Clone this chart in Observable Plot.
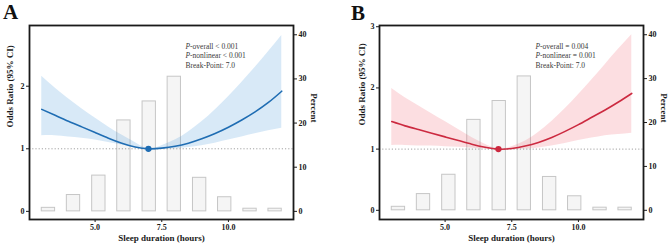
<!DOCTYPE html>
<html>
<head>
<meta charset="utf-8">
<script src="https://cdn.jsdelivr.net/npm/d3@7"></script>
<script src="https://cdn.jsdelivr.net/npm/@observablehq/plot@0.6"></script>
<style>
  body { margin: 0; background: #fff; }
  #wrap { position: relative; width: 669px; height: 248px; overflow: hidden; background: #fff; }
  .panel { position: absolute; top: 0; }
  .letter { position: absolute; font-family: 'Liberation Serif', serif; font-weight: bold; font-size: 21px; line-height: 21px; color: #111; }
</style>
</head>
<body>
<div id="wrap"></div>
<script>
// ---- data ----
const sleepHours = [3, 3.5, 4, 4.5, 5, 5.5, 6, 6.5, 7, 7.5, 8, 8.5, 9, 9.5, 10, 10.5, 11, 11.5, 12];
const orA = [1.63, 1.535, 1.44, 1.35, 1.26, 1.17, 1.09, 1.03, 1.00, 1.01, 1.04, 1.09, 1.16, 1.245, 1.345, 1.46, 1.59, 1.74, 1.92];
const loA = [1.21, 1.21, 1.19, 1.17, 1.14, 1.10, 1.06, 1.02, 1.00, 0.99, 1.00, 1.02, 1.05, 1.09, 1.14, 1.19, 1.24, 1.29, 1.33];
const hiA = [2.16, 1.97, 1.80, 1.64, 1.49, 1.35, 1.22, 1.10, 1.00, 1.05, 1.14, 1.27, 1.43, 1.62, 1.83, 2.06, 2.30, 2.55, 2.81];
const orB = [1.45, 1.38, 1.32, 1.26, 1.20, 1.14, 1.08, 1.03, 1.00, 1.01, 1.05, 1.11, 1.19, 1.29, 1.40, 1.52, 1.64, 1.77, 1.91];
const loB = [1.06, 1.06, 1.05, 1.05, 1.04, 1.03, 1.02, 1.00, 1.00, 0.99, 1.00, 1.02, 1.05, 1.09, 1.14, 1.18, 1.22, 1.24, 1.26];
const hiB = [1.99, 1.84, 1.71, 1.58, 1.45, 1.32, 1.19, 1.08, 1.00, 1.04, 1.13, 1.27, 1.45, 1.66, 1.89, 2.13, 2.38, 2.63, 2.87];
const binCenters = [3.25, 4.19, 5.14, 6.08, 7.03, 7.97, 8.92, 9.86, 10.81, 11.75];
const binPercent = [0.8, 3.7, 8.1, 20.6, 24.9, 30.5, 7.6, 3.2, 0.6, 0.6];
const breakPoint = 7.0;
const xTicks = [5, 7.5, 10];
const pctTicks = [0, 10, 20, 30, 40];
const notesA = ["P-overall < 0.001", "P-nonlinear < 0.001", "Break-Point: 7.0"];
const notesB = ["P-overall = 0.004", "P-nonlinear = 0.001", "Break-Point: 7.0"];

const SERIF = "'Liberation Serif', 'Times New Roman', serif";

function panel(cfg) {
  const curveData = sleepHours.map((x, i) => ({x, or: cfg.or[i], lo: cfg.lo[i], hi: cfg.hi[i]}));
  const bins = binCenters.map((c, i) => ({c, p: binPercent[i]}));
  const k = cfg.yMax / 42.1; // OR units per percent (percent 0 aligned with OR 0)
  const bold = {fontWeight: "bold", fontFamily: SERIF};
  const svg = Plot.plot({
    width: cfg.w, height: 248,
    marginTop: 25, marginBottom: 29, marginLeft: cfg.mL, marginRight: cfg.mR,
    x: {domain: [2.54, 12.44]},
    y: {domain: [cfg.yMin, cfg.yMax]},
    style: {fontFamily: SERIF, fontWeight: "bold", background: "white", overflow: "visible", color: "#1a1a1a"},
    marks: [
      Plot.rect(bins, {x1: d => d.c - 0.25, x2: d => d.c + 0.25, y1: 0, y2: d => d.p * k, fill: "#f5f5f5", stroke: "#c6c6c6", strokeWidth: 1}),
      Plot.areaY(curveData, {x: "x", y1: "lo", y2: "hi", fill: cfg.band, fillOpacity: 0.2, curve: "natural"}),
      Plot.ruleY([1], {stroke: "#8a8a8a", strokeWidth: 0.8, strokeDasharray: "1.2,2"}),
      Plot.line(curveData, {x: "x", y: "or", stroke: cfg.color, strokeWidth: 1.6, curve: "natural"}),
      Plot.dot([{x: breakPoint, y: 1}], {x: "x", y: "y", r: 2.4, fill: cfg.color, stroke: cfg.color}),
      Plot.frame({stroke: "#1a1a1a", strokeWidth: 1.8}),
      Plot.axisX({ticks: xTicks, tickFormat: d => d.toFixed(1), tickSize: 3, tickPadding: 2, fontSize: 8, label: null, ...bold}),
      Plot.axisY({anchor: "left", ticks: cfg.yTicks, tickFormat: d => String(d), tickSize: 3, tickPadding: 2, fontSize: 8, label: null, ...bold}),
      Plot.axisY({anchor: "right", ticks: pctTicks.map(p => p * k), tickFormat: v => String(Math.round(v / k)), tickSize: 3, tickPadding: 2, fontSize: 8, label: null, ...bold}),
      Plot.text(["Odds Ratio (95% CI)"], {frameAnchor: "left", rotate: -90, dx: cfg.yLabDx, dy: cfg.yLabDy, text: d => d, fontSize: 9, ...bold}),
      Plot.text(["Percent"], {frameAnchor: "right", rotate: 90, dx: 20, text: d => d, fontSize: 9, ...bold}),
      Plot.text(["Sleep duration (hours)"], {frameAnchor: "bottom", dy: 21.5, text: d => d, fontSize: 9, ...bold}),
      ...cfg.notes.map((t, i) => Plot.text([t], {frameAnchor: "top-left", dx: 156, dy: 17.7 + i * 9.8, text: d => d, textAnchor: "start", fontSize: 7.5, fontWeight: "normal", fontFamily: SERIF, fill: "#3a3a3a"}))
    ]
  });
  d3.select(svg).selectAll("text").each(function () {
    const t = this.textContent;
    if (/^P-/.test(t)) {
      this.textContent = "";
      d3.select(this).append("tspan").attr("font-style", "italic").text("P");
      d3.select(this).append("tspan").text(t.slice(1));
    }
  });
  svg.classList.add("panel");
  svg.style.left = cfg.left + "px";
  return svg;
}

const wrap = document.getElementById("wrap");
wrap.appendChild(panel({or: orA, lo: loA, hi: hiA, color: "#1f6db3", band: "#3b8fd9", yMin: -0.13, yMax: 2.97, yTicks: [0, 1, 2], w: 335, mL: 29, mR: 42, left: 0, yLabDx: -19, yLabDy: 5, notes: notesA}));
wrap.appendChild(panel({or: orB, lo: loB, hi: hiB, color: "#cc2a40", band: "#f05a6a", yMin: -0.15, yMax: 3.02, yTicks: [0, 1, 2, 3], w: 334, mL: 44, mR: 26, left: 335, yLabDx: -17, yLabDy: 3, notes: notesB}));

const la = document.createElement("div"); la.className = "letter"; la.textContent = "A"; la.style.left = "3px"; la.style.top = "2px"; wrap.appendChild(la);
const lb = document.createElement("div"); lb.className = "letter"; lb.textContent = "B"; lb.style.left = "351px"; lb.style.top = "3px"; wrap.appendChild(lb);
</script>
</body>
</html>
